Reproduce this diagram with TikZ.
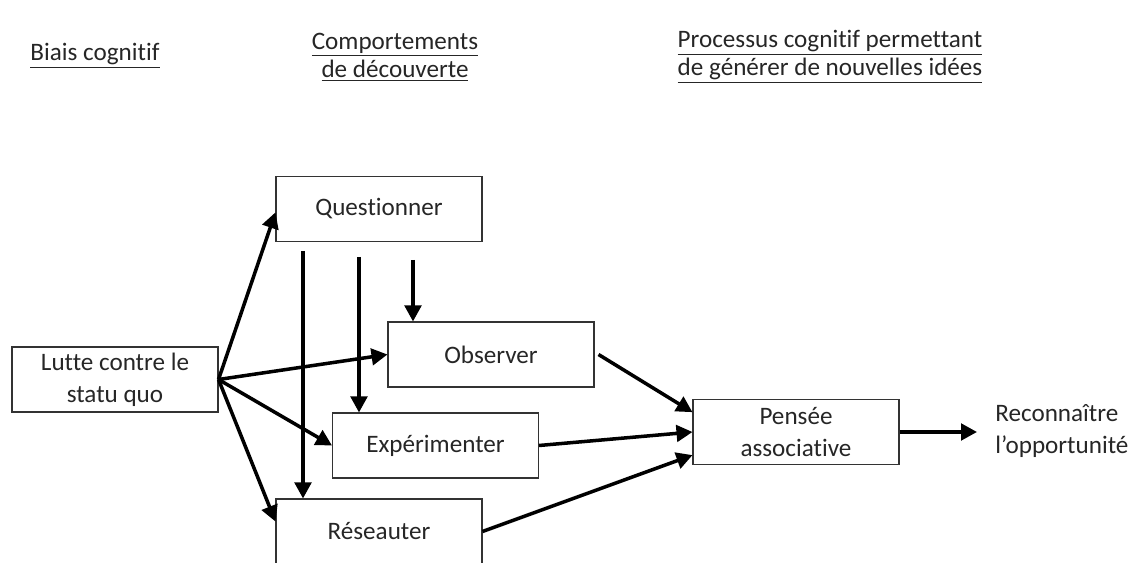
\documentclass[tikz,border=0pt]{standalone}
\usepackage{fontspec}
\setmainfont{Carlito}[Ligatures=NoCommon]
\usetikzlibrary{arrows.meta,calc}

\tikzset{
  box/.style={draw=black!80, line width=0.6pt, minimum width=4.12cm, minimum height=1.3cm,
    align=center, inner sep=0pt, font=\fontsize{14.3}{18}\selectfont, text=black!85},
  head/.style={align=center, inner sep=0pt, font=\fontsize{14.3}{16}\selectfont, text=black!85},
  arr/.style={line width=2pt, -{Triangle[length=0.32cm,width=0.33cm]}}
}

\begin{document}
\begin{tikzpicture}[x=0.02cm, y=-0.02cm]

  \useasboundingbox (0,0) rectangle (1130,563);

  \node (biais) [head] at (95,56) {\underline{Biais cognitif}};
  \node (comp) [head] at (395,57) {\underline{Comportements}\\\underline{de découverte}};
  \node (proc) [head] at (830,57) {\underline{Processus cognitif permettant}\\\underline{de générer de nouvelles idées}};

  \node (lutte) [box] at (115,379.5) {Lutte contre le\\statu quo};
  \node (quest) [box] at (379,209) {Questionner};
  \node (obs) [box] at (491,354.5) {Observer};
  \node (exp) [box] at (435.5,445.5) {Expérimenter};
  \node (res) [box] at (379,531.5) {Réseauter};
  \node (pensee) [box] at (796,432) {Pensée\\associative};
  \node (reco) [head, font=\fontsize{14.3}{18}\selectfont, align=left, anchor=west] at (995,431) {Reconnaître\\l’opportunité};

  \coordinate (q1) at (303,251);
  \coordinate (q2) at (359,257);
  \coordinate (q3) at (413,260);

  \draw [arr] (lutte.east) -- ($(quest.north west)!0.55!(quest.south west)$);
  \draw [arr] (lutte.east) -- (obs.west);
  \draw [arr] (lutte.east) -- (exp.west);
  \draw [arr] (lutte.east) -- ($(res.north west)!0.35!(res.south west)$);

  \draw [arr] (q1) -- (q1 |- res.north);
  \draw [arr] (q2) -- (q2 |- exp.north);
  \draw [arr] (q3) -- (q3 |- obs.north);

  \draw [arr] ([xshift=0.08cm]obs.east) -- ($(pensee.north west)!0.2!(pensee.south west)$);
  \draw [arr] (exp.east) -- (pensee.west);
  \draw [arr] (res.east) -- ($(pensee.north west)!0.85!(pensee.south west)$);
  \draw [arr, shorten >=0.36cm] (pensee.east) -- (reco.west |- pensee.east);

\end{tikzpicture}
\end{document}
